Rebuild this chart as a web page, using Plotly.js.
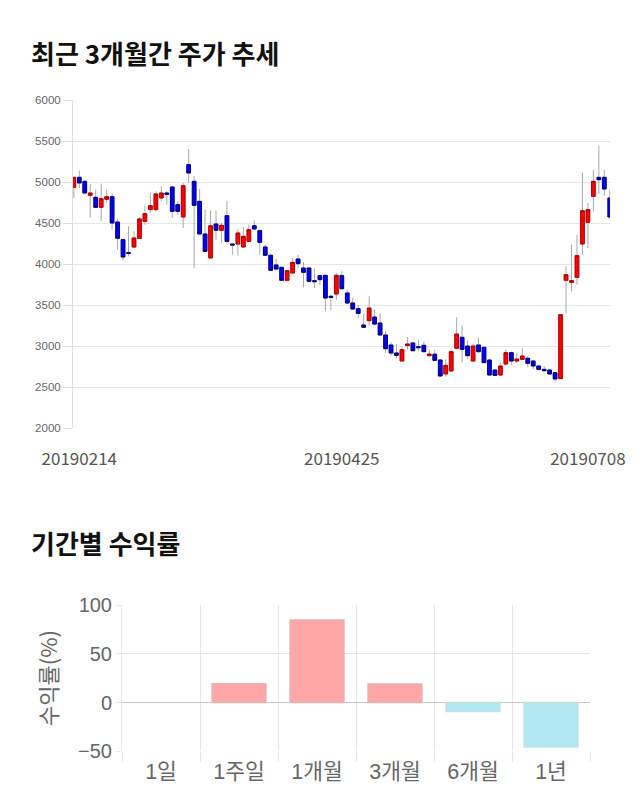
<!DOCTYPE html>
<html>
<head>
<meta charset="utf-8">
<script src="https://cdn.plot.ly/plotly-3.0.1.min.js"></script>
<style>html,body{margin:0;padding:0;background:#fff;}#chart{width:640px;height:810px;}</style>
</head>
<body>
<div id="chart"></div>
<script>
// ---- price data ----
const openP  = [4935,5057,5008,4837,4813,4691,4789,4821,4512,4297,4138,4207,4313,4520,4663,4663,4805,4866,4939,4724,4573,5211,5008,4764,4366,4073,4488,4411,4589,4244,4244,4207,4276,4467,4407,4207,4106,3988,3959,3801,3890,4061,3951,3951,3797,3858,3862,3606,3634,3858,3646,3524,3455,3256,3309,3354,3280,3134,3012,2915,2817,3004,3037,2992,3008,2882,2900,2829,2659,2695,2972,3106,3000,2817,3012,2984,2829,2707,2646,2780,2919,2817,2837,2850,2817,2756,2715,2707,2675,2602,3801,3776,3837,4244,4508,4825,5057,5057,4805];
const highP  = [5060,5138,5015,4976,4907,4980,4907,4866,4553,4305,4459,4398,4573,4715,4866,4886,4947,4886,4950,4764,4988,5402,5077,4915,4663,4654,4650,4500,4772,4250,4427,4451,4480,4533,4410,4236,4126,4061,3965,3925,4073,4114,4024,3955,3951,3860,3870,3626,3890,3911,3679,3585,3504,3394,3606,3451,3394,3179,3045,3024,2996,3110,3045,3077,3053,2955,2955,2837,2837,2943,3350,3248,3065,3020,3106,2990,2837,2715,2797,2959,2931,2911,2972,2878,2825,2768,2756,2715,2680,3382,3972,4236,4358,5110,4744,5150,5443,5150,4907];
const lowP   = [4805,4927,4860,4569,4680,4520,4744,4419,4175,4045,4093,4200,4305,4480,4622,4640,4764,4724,4561,4602,4439,4988,3951,4366,4154,4073,4297,4256,4256,4114,4102,4200,4270,4420,4114,4100,3919,3919,3801,3789,3882,3951,3715,3776,3707,3748,3423,3435,3565,3687,3512,3443,3341,3228,3248,3248,3134,2915,2882,2846,2817,2955,2927,2935,2925,2874,2820,2626,2626,2690,2959,2801,2837,2810,2911,2789,2638,2634,2638,2760,2768,2789,2821,2740,2715,2699,2687,2646,2565,2602,3402,3667,3748,4114,4195,4642,4854,4833,4549];
const closeP = [5057,4988,4866,4866,4691,4797,4821,4500,4313,4085,4130,4317,4549,4614,4711,4854,4866,4850,4642,4642,4955,5110,4715,4366,4154,4467,4411,4472,4276,4232,4378,4337,4419,4427,4264,4106,3923,3939,3801,3919,4020,4004,3898,3789,3785,3809,3585,3594,3862,3699,3524,3451,3398,3228,3463,3268,3134,2967,2915,2886,2955,3024,2943,2980,2931,2902,2825,2634,2764,2931,3146,2959,2882,3000,2931,2797,2646,2642,2756,2919,2817,2841,2878,2789,2756,2715,2699,2659,2598,3382,3870,3797,4102,4650,4663,5008,5028,4915,4573];
const priceTickLabels = ['20190214','20190425','20190708'];
const priceTickIndex  = [1, 49, 94];

// ---- period returns ----
const periods = ['1일','1주일','1개월','3개월','6개월','1년'];
const returns = [0, 19.2, 84.7, 18.9, -9.2, -45.7];

const xs = openP.map((_, i) => i);
const bodyHigh = openP.map((o, i) => Math.max(o, closeP[i]));
const bodyLow  = openP.map((o, i) => Math.min(o, closeP[i]));

const W = 640, H = 810;
const px = v => v / W;
const py = v => 1 - v / H;

const wicks = {
  type: 'candlestick', x: xs, open: openP, high: highP, low: lowP, close: closeP,
  xaxis: 'x', yaxis: 'y', hoverinfo: 'skip', showlegend: false,
  increasing: {line: {color: '#a8a8a8', width: 1}, fillcolor: '#a8a8a8'},
  decreasing: {line: {color: '#a8a8a8', width: 1}, fillcolor: '#a8a8a8'},
  whiskerwidth: 0
};
const bodies = {
  type: 'candlestick', x: xs, open: openP, high: bodyHigh, low: bodyLow, close: closeP,
  xaxis: 'x', yaxis: 'y', hoverinfo: 'skip', showlegend: false,
  increasing: {line: {color: '#b00000', width: 1}, fillcolor: '#ff0000'},
  decreasing: {line: {color: '#00007a', width: 1}, fillcolor: '#0000ff'},
  whiskerwidth: 0
};
const bars = {
  type: 'bar', x: periods, y: returns, xaxis: 'x2', yaxis: 'y2', hoverinfo: 'skip', showlegend: false,
  marker: {
    color: returns.map(v => v >= 0 ? '#ffa6a6' : '#afe8f1'),
    line: {color: returns.map(v => v >= 0 ? '#e2b3b3' : '#c3dfe3'),
           width: returns.map(v => v === 0 ? 0 : 1.5)}
  }
};

const grid = '#e6e6e6';
const layout = {
  width: W, height: H,
  margin: {l: 0, r: 0, t: 0, b: 0, autoexpand: false},
  paper_bgcolor: '#fff', plot_bgcolor: '#fff',
  boxmode: 'overlay', boxgap: 0.32, boxgroupgap: 0,
  font: {family: 'Liberation Sans, Arial, "Noto Sans CJK KR", sans-serif', color: '#666'},
  xaxis: {
    domain: [px(73), px(610)], range: [-0.15, 98.04], anchor: 'y',
    rangeslider: {visible: false}, showgrid: false, zeroline: false, showline: false,
    tickmode: 'array', tickvals: priceTickIndex, ticktext: priceTickLabels,
    ticks: 'outside', ticklen: 16, tickcolor: 'rgba(0,0,0,0)',
    tickfont: {family: '"Noto Sans CJK KR", sans-serif', size: 17, color: '#555'},
    fixedrange: true
  },
  yaxis: {
    domain: [py(428), py(100)], range: [2000, 6000], anchor: 'x',
    tickvals: [2000,2500,3000,3500,4000,4500,5000,5500,6000],
    showgrid: true, gridcolor: grid, zeroline: false,
    showline: true, linecolor: '#dddddd', linewidth: 1,
    ticks: 'outside', ticklen: 9, tickcolor: '#dddddd',
    tickfont: {family: 'Liberation Sans, Arial, sans-serif', size: 11.5, color: '#666'},
    fixedrange: true
  },
  xaxis2: {
    domain: [px(122), px(590)], anchor: 'y2', type: 'category',
    tickson: 'boundaries', showgrid: true, gridcolor: grid, zeroline: false,
    ticks: 'outside', ticklen: 10, tickcolor: grid, showline: false,
    ticklabelstandoff: 5,
    tickfont: {family: 'Liberation Sans, Arial, "Noto Sans CJK KR", sans-serif', size: 21.5, color: '#666'},
    fixedrange: true
  },
  yaxis2: {
    domain: [py(751.3), py(605)], range: [-50, 100], anchor: 'x2',
    tickvals: [-50, 0, 50, 100],
    showgrid: true, gridcolor: grid, zeroline: true, zerolinecolor: '#c8c8c8', zerolinewidth: 1,
    showline: true, linecolor: grid,
    ticks: 'outside', ticklen: 5, tickcolor: grid,
    tickfont: {family: 'Liberation Sans, Arial, sans-serif', size: 20, color: '#666'},
    fixedrange: true
  },
  bargap: 0.31,
  annotations: [
    {text: '<b>최근 3개월간 주가 추세</b>', xref: 'paper', yref: 'paper', x: px(29), y: py(52.5),
     xanchor: 'left', yanchor: 'middle', showarrow: false,
     font: {family: '"Noto Sans CJK KR", sans-serif', size: 26, color: '#111'}},
    {text: '<b>기간별 수익률</b>', xref: 'paper', yref: 'paper', x: px(29), y: py(542.5),
     xanchor: 'left', yanchor: 'middle', showarrow: false,
     font: {family: '"Noto Sans CJK KR", sans-serif', size: 26, color: '#111'}},
    {text: '수익률(%)', xref: 'paper', yref: 'paper', x: px(47), y: py(678),
     xanchor: 'center', yanchor: 'middle', showarrow: false, textangle: -90,
     font: {family: '"Noto Sans CJK KR", sans-serif', size: 22, color: '#666'}}
  ]
};

Plotly.newPlot('chart', [wicks, bodies, bars], layout, {displayModeBar: false, staticPlot: true});
</script>
</body>
</html>
